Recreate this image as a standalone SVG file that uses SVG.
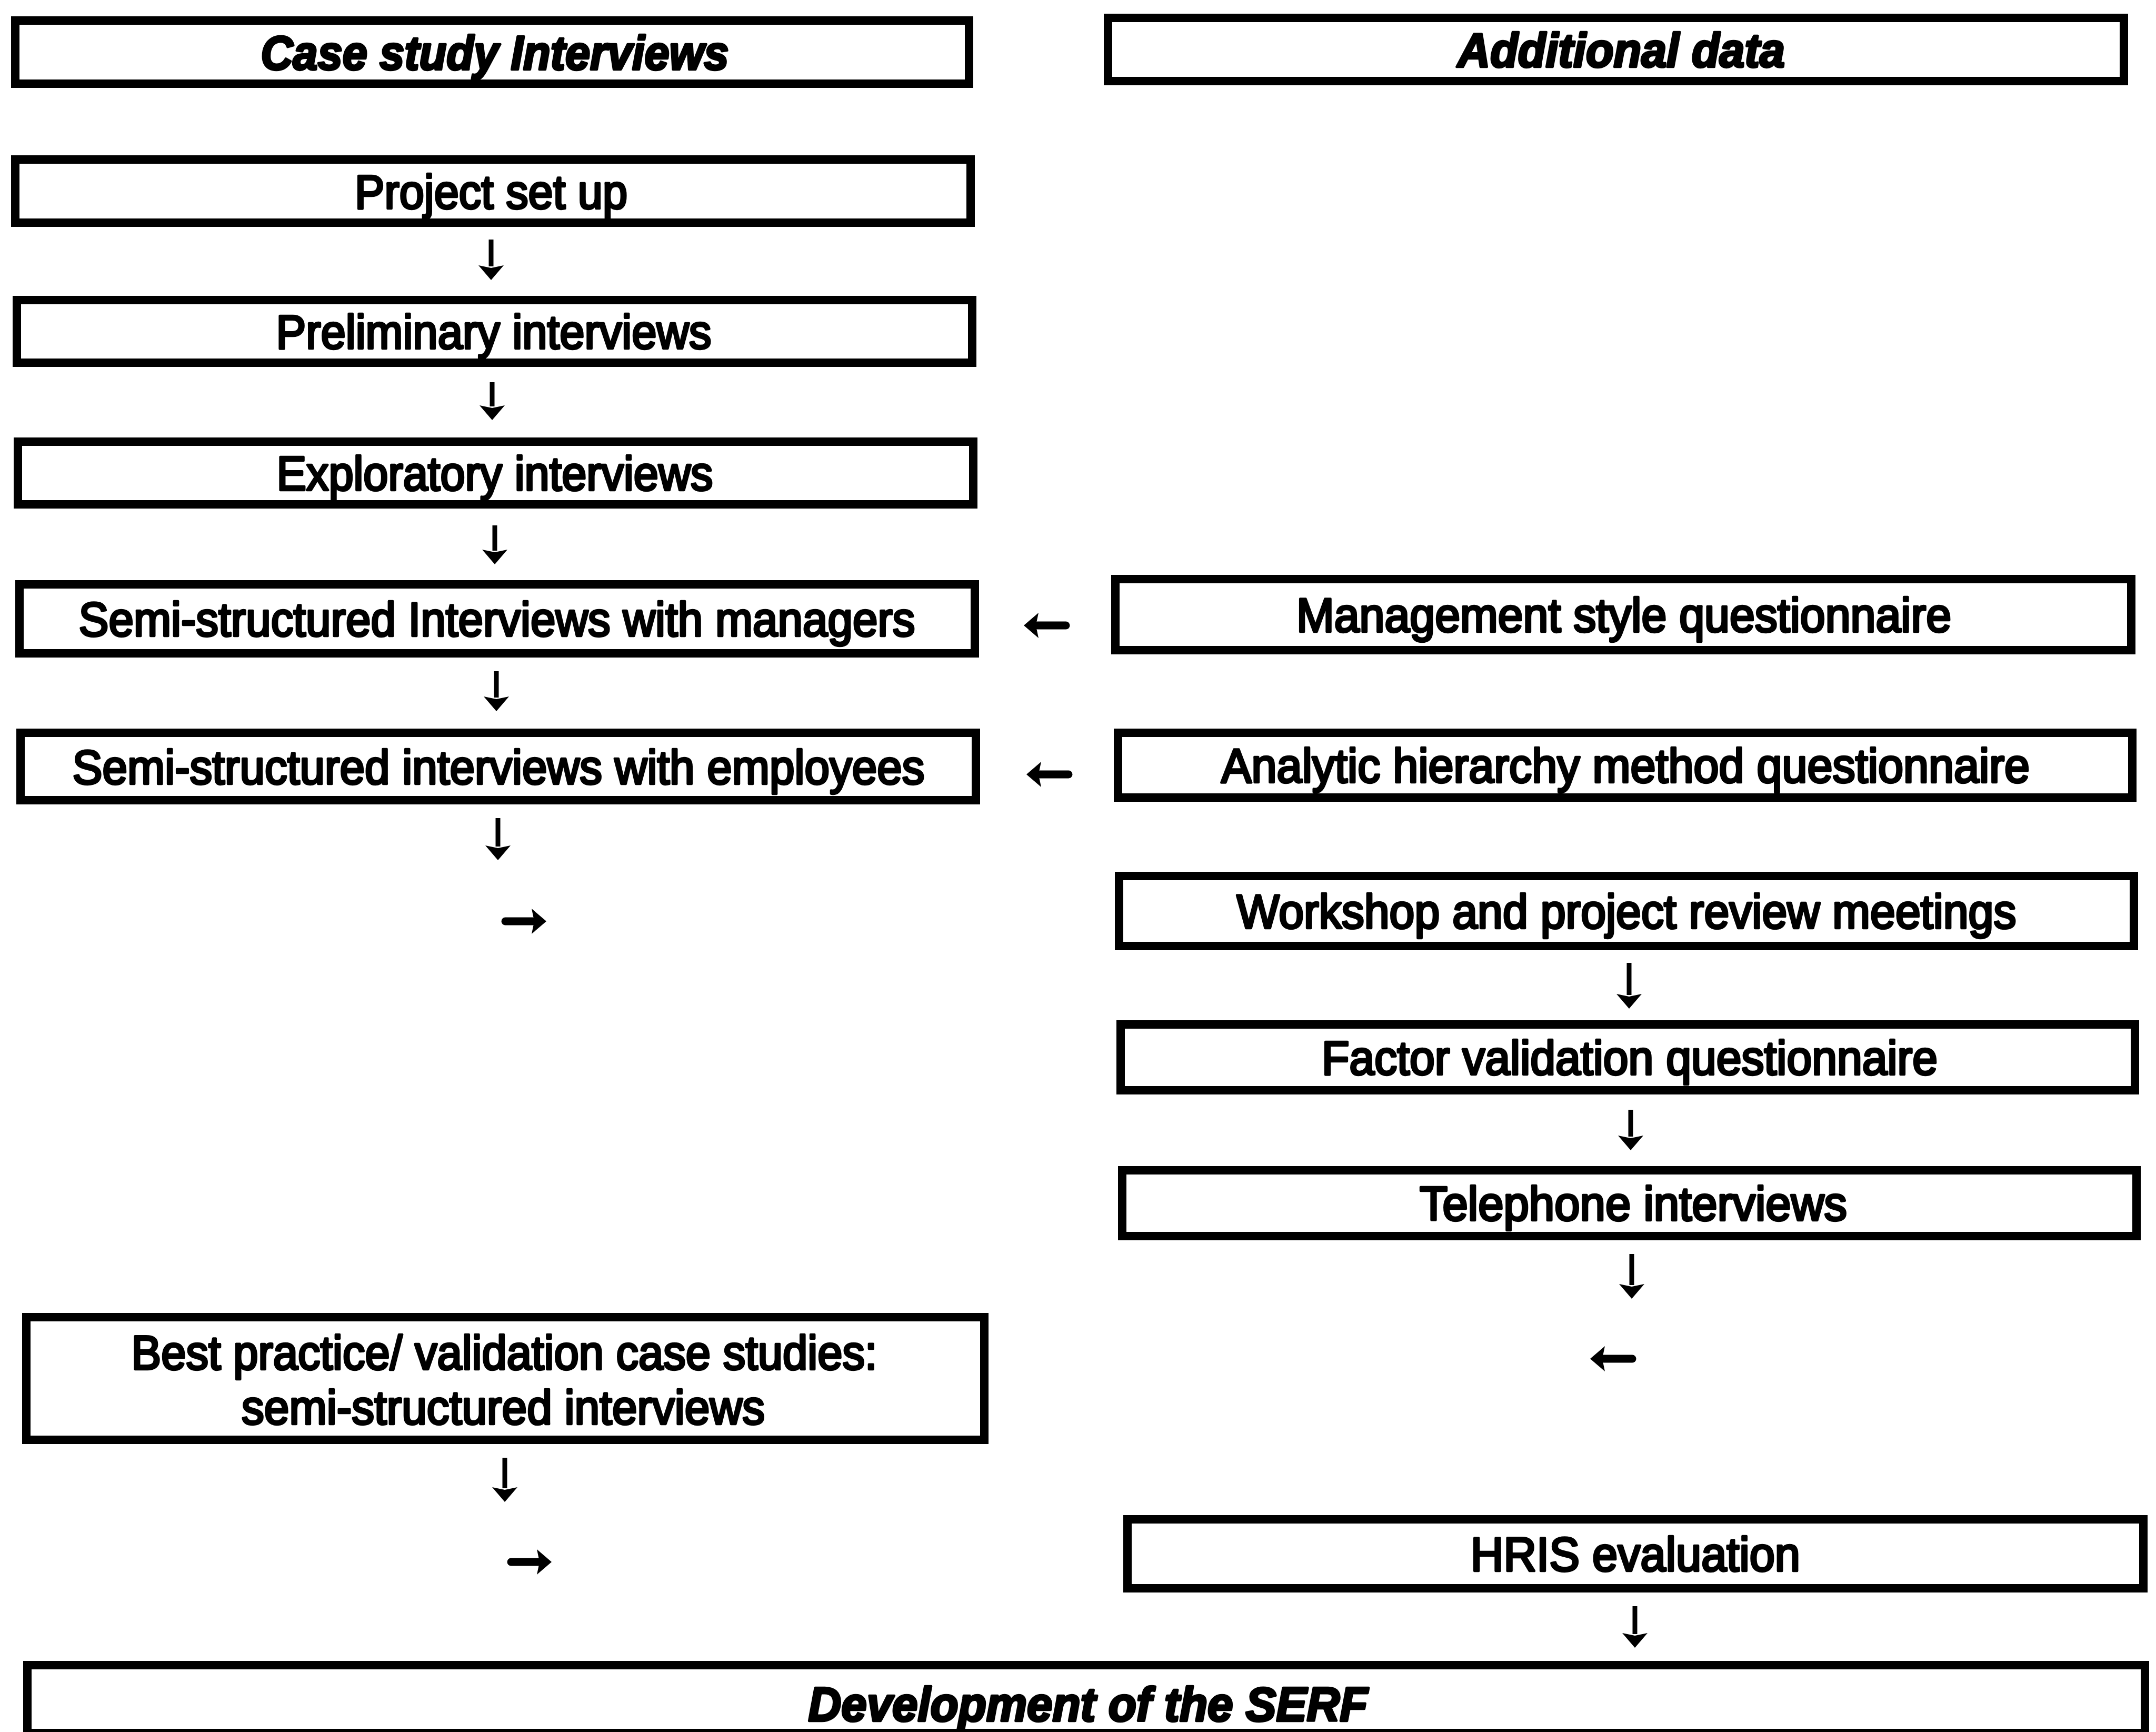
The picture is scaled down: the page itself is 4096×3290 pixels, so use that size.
<svg xmlns="http://www.w3.org/2000/svg" width="4096" height="3290" viewBox="0 0 4096 3290">
  <defs>
    <style>
      .box { fill: #fff; stroke: #000; stroke-width: 16; }
      .t { font-family: "Liberation Sans", Arial, Helvetica, sans-serif; font-size: 91px; fill: #000; stroke: #000; stroke-width: 4.5; stroke-linejoin: round; text-anchor: middle; }
      .h { font-weight: bold; font-style: italic; }
      .v { stroke: #000; stroke-width: 9; fill: none; marker-end: url(#head); }
      .hz { stroke: #000; stroke-width: 15; stroke-linecap: round; fill: none; marker-end: url(#head); }
    </style>
    <marker id="head" markerUnits="userSpaceOnUse" viewBox="0 0 28 48" markerWidth="28" markerHeight="48" refX="2" refY="24" orient="auto">
      <path d="M0,0 L28,24 L0,48 L5,24 Z" fill="#000"/>
    </marker>
  </defs>

  <rect width="4096" height="3290" fill="#fff"/>

  <!-- left column: case study interviews -->
  <g id="case-study">
    <rect class="box" x="29" y="39" width="1812" height="120"/>
    <text class="t h" x="940" y="132" textLength="889" lengthAdjust="spacingAndGlyphs">Case study Interviews</text>
  </g>
  <g id="project-set-up">
    <rect class="box" x="29" y="303" width="1815" height="120"/>
    <text class="t" x="933" y="396" textLength="518" lengthAdjust="spacingAndGlyphs">Project set up</text>
  </g>
  <g id="preliminary">
    <rect class="box" x="32" y="570" width="1815" height="119"/>
    <text class="t" x="938" y="662" textLength="827" lengthAdjust="spacingAndGlyphs">Preliminary interviews</text>
  </g>
  <g id="exploratory">
    <rect class="box" x="34" y="839" width="1815" height="119"/>
    <text class="t" x="940" y="931" textLength="829" lengthAdjust="spacingAndGlyphs">Exploratory interviews</text>
  </g>
  <g id="semi-managers">
    <rect class="box" x="37" y="1110" width="1815" height="131"/>
    <text class="t" x="944" y="1208" textLength="1589" lengthAdjust="spacingAndGlyphs">Semi-structured Interviews with managers</text>
  </g>
  <g id="semi-employees">
    <rect class="box" x="39" y="1392" width="1815" height="128"/>
    <text class="t" x="947" y="1489" textLength="1619" lengthAdjust="spacingAndGlyphs">Semi-structured interviews with employees</text>
  </g>
  <g id="best-practice">
    <rect class="box" x="50" y="2502" width="1820" height="233"/>
    <text class="t" x="958" y="2601" textLength="1417" lengthAdjust="spacingAndGlyphs">Best practice/ validation case studies:</text>
    <text class="t" x="956" y="2705" textLength="994" lengthAdjust="spacingAndGlyphs">semi-structured interviews</text>
  </g>

  <!-- right column: additional data -->
  <g id="additional-data">
    <rect class="box" x="2105" y="34" width="1930" height="120"/>
    <text class="t h" x="3080" y="127" textLength="622" lengthAdjust="spacingAndGlyphs">Additional data</text>
  </g>
  <g id="management-style">
    <rect class="box" x="2119" y="1100" width="1930" height="135"/>
    <text class="t" x="3085" y="1200" textLength="1244" lengthAdjust="spacingAndGlyphs">Management style questionnaire</text>
  </g>
  <g id="analytic-hierarchy">
    <rect class="box" x="2124" y="1392" width="1927" height="123"/>
    <text class="t" x="3088" y="1486" textLength="1536" lengthAdjust="spacingAndGlyphs">Analytic hierarchy method questionnaire</text>
  </g>
  <g id="workshop">
    <rect class="box" x="2126" y="1664" width="1928" height="133"/>
    <text class="t" x="3090" y="1763" textLength="1481" lengthAdjust="spacingAndGlyphs">Workshop and project review meetings</text>
  </g>
  <g id="factor-validation">
    <rect class="box" x="2129" y="1946" width="1927" height="125"/>
    <text class="t" x="3096" y="2041" textLength="1170" lengthAdjust="spacingAndGlyphs">Factor validation questionnaire</text>
  </g>
  <g id="telephone">
    <rect class="box" x="2132" y="2223" width="1927" height="125"/>
    <text class="t" x="3103" y="2318" textLength="812" lengthAdjust="spacingAndGlyphs">Telephone interviews</text>
  </g>
  <g id="hris">
    <rect class="box" x="2142" y="2886" width="1930" height="131"/>
    <text class="t" x="3107" y="2984" textLength="626" lengthAdjust="spacingAndGlyphs">HRIS evaluation</text>
  </g>

  <!-- bottom: outcome -->
  <g id="serf">
    <rect class="box" x="52" y="3163" width="4023" height="129"/>
    <text class="t h" x="2067" y="3269" textLength="1063" lengthAdjust="spacingAndGlyphs">Development of the SERF</text>
  </g>

  <!-- arrows -->
  <g id="connectors">
    <line class="v" x1="933" y1="455" x2="933" y2="506"/>
    <line class="v" x1="935" y1="726" x2="935" y2="772"/>
    <line class="v" x1="940" y1="998" x2="940" y2="1046"/>
    <line class="v" x1="943" y1="1275" x2="943" y2="1325"/>
    <line class="v" x1="946" y1="1554" x2="946" y2="1608"/>
    <line class="v" x1="959" y1="2769" x2="959" y2="2827"/>
    <line class="v" x1="3095" y1="1829" x2="3095" y2="1890"/>
    <line class="v" x1="3098" y1="2108" x2="3098" y2="2159"/>
    <line class="v" x1="3100" y1="2382" x2="3100" y2="2441"/>
    <line class="v" x1="3106" y1="3051" x2="3106" y2="3104"/>
    <line class="hz" x1="960" y1="1750" x2="1012" y2="1750"/>
    <line class="hz" x1="971" y1="2967" x2="1022" y2="2967"/>
    <line class="hz" x1="2025" y1="1188" x2="1971" y2="1188"/>
    <line class="hz" x1="2030" y1="1471" x2="1976" y2="1471"/>
    <line class="hz" x1="3101" y1="2581" x2="3047" y2="2581"/>
  </g>
</svg>
